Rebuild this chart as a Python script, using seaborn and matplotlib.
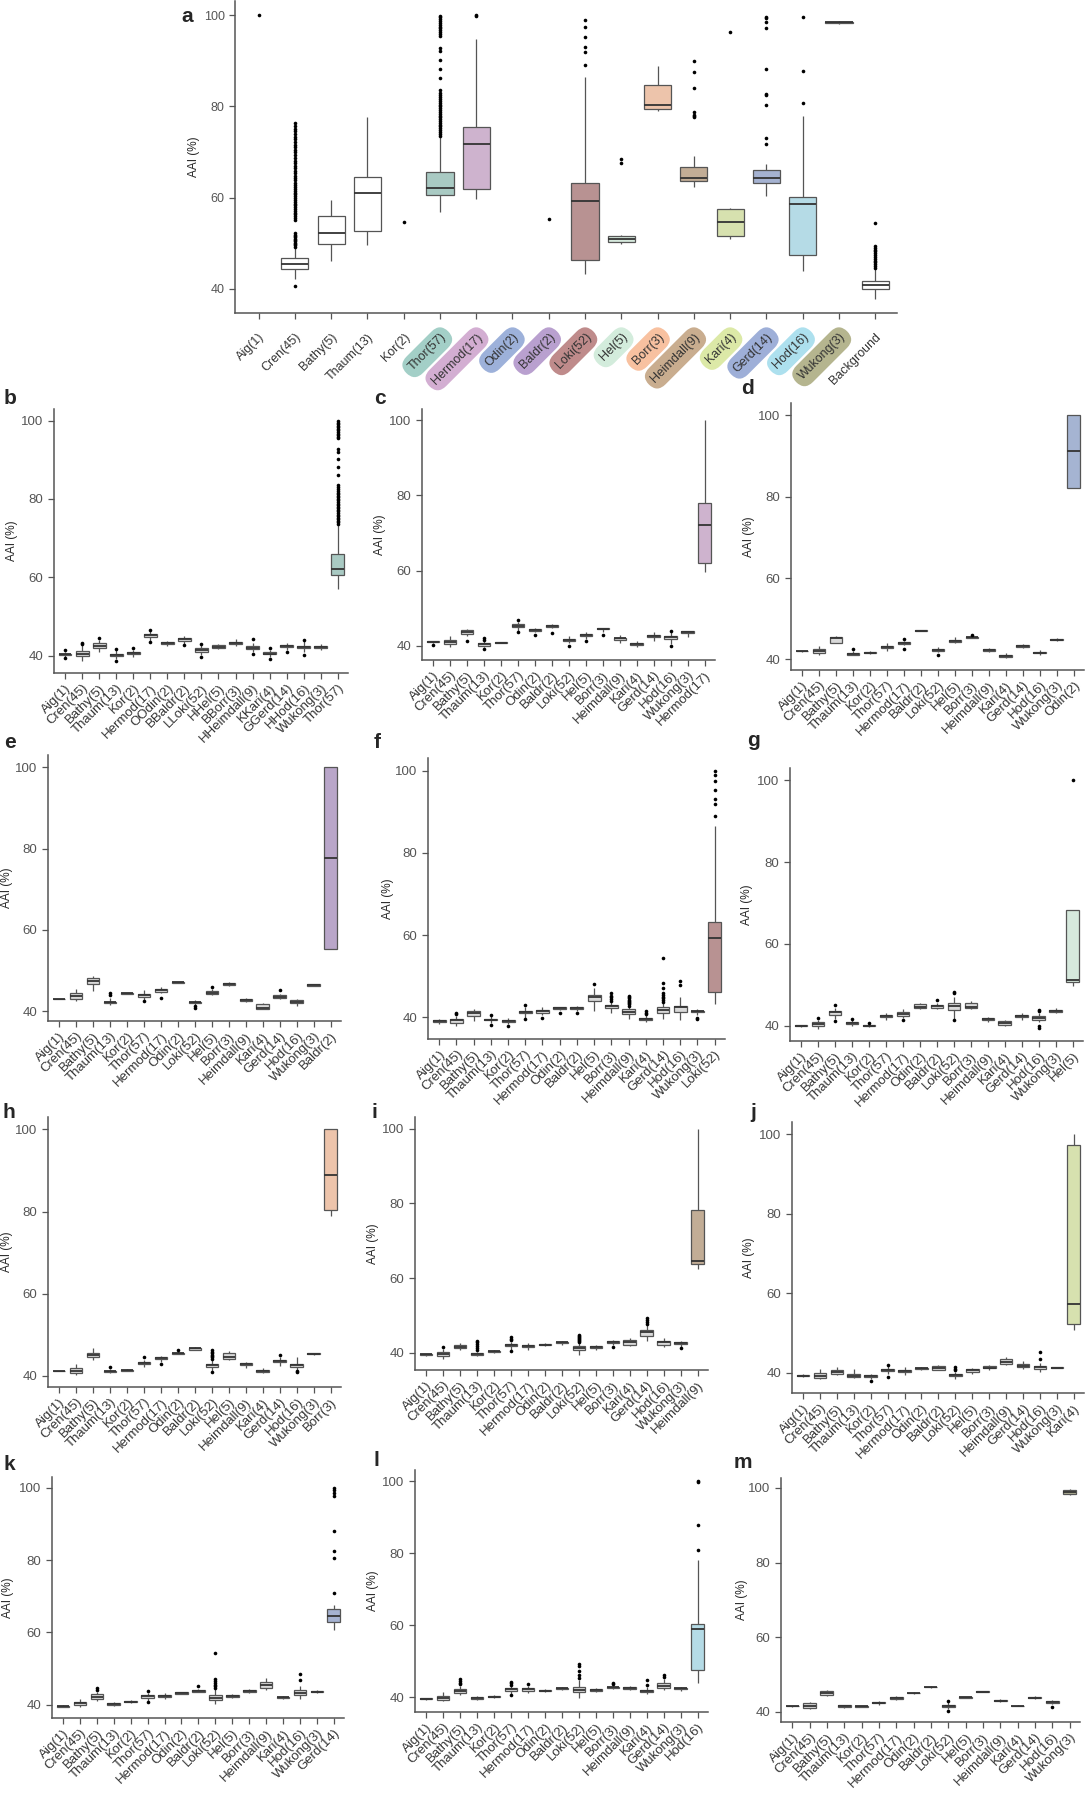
import matplotlib
matplotlib.use("Agg")
import matplotlib.pyplot as plt
import seaborn as sns
import pandas as pd

sns.set_style("ticks")
plt.rcParams["font.family"] = ["Liberation Sans", "DejaVu Sans"]

W, H = 1086, 1800

# ---- lineages ----
LINEAGES = ["Aig(1)", "Cren(45)", "Bathy(5)", "Thaum(13)", "Kor(2)", "Thor(57)",
            "Hermod(17)", "Odin(2)", "Baldr(2)", "Loki(52)", "Hel(5)", "Borr(3)",
            "Heimdall(9)", "Kari(4)", "Gerd(14)", "Hod(16)", "Wukong(3)"]
COLORS = {"Thor(57)": "#a3cfc7", "Hermod(17)": "#d3aed2", "Odin(2)": "#9db1da",
          "Baldr(2)": "#b9a0cf", "Loki(52)": "#bf8b8b", "Hel(5)": "#d3ecdc",
          "Borr(3)": "#f8c1a0", "Heimdall(9)": "#c9ad8f", "Kari(4)": "#dce9a7",
          "Gerd(14)": "#9eafd8", "Hod(16)": "#ade0ee", "Wukong(3)": "#b5b58f"}

# ---- panel a: (whislo, q1, median, q3, whishi) ----
A_ORDER = LINEAGES + ["Background"]
a_stats = {
    "Cren(45)": (42.2, 44.3, 45.4, 46.8, 48.9),
    "Bathy(5)": (46.2, 49.9, 52.2, 55.9, 59.4),
    "Thaum(13)": (49.5, 52.7, 61.1, 64.5, 77.6),
    "Thor(57)": (56.8, 60.6, 62.0, 65.6, 73.3),
    "Hermod(17)": (59.7, 61.8, 71.8, 75.4, 94.8),
    "Loki(52)": (43.2, 46.3, 59.2, 63.1, 86.4),
    "Hel(5)": (49.8, 50.3, 50.9, 51.6, 51.8),
    "Borr(3)": (78.9, 79.5, 80.3, 84.6, 88.8),
    "Heimdall(9)": (62.3, 63.7, 64.4, 66.7, 69.2),
    "Kari(4)": (50.9, 51.5, 54.7, 57.5, 57.8),
    "Gerd(14)": (60.4, 63.2, 64.2, 66.1, 67.3),
    "Hod(16)": (44.0, 47.5, 58.6, 60.2, 77.9),
    "Wukong(3)": (98.1, 98.2, 98.4, 98.6, 98.8),
    "Background": (37.8, 39.9, 40.9, 41.7, 44.3),
}
cren_fliers = [40.6, 49.2, 49.5, 49.8, 50.1, 50.4, 50.7, 51.0, 51.3, 51.6, 51.9, 52.2,
               55.1, 55.5, 55.9, 56.3, 56.7, 57.1, 57.5, 57.9, 58.3, 58.7, 59.1, 59.5,
               59.9, 60.3, 60.7, 61.1, 61.5, 61.9, 62.3, 62.8, 63.3, 63.8, 64.3, 64.8,
               65.3, 65.9, 66.4, 67.0, 67.5, 68.1, 68.7, 69.3, 69.9, 70.5, 71.0, 71.6,
               72.2, 72.8, 73.3, 73.9, 74.5, 75.1, 75.7, 76.4]
thor_fliers = [73.6, 74.0, 74.4, 74.8, 75.2, 75.6, 76.0, 76.4, 76.8, 77.2, 77.6, 78.0,
               78.4, 78.8, 79.2, 79.6, 80.0, 80.4, 80.8, 81.2, 81.6, 82.0, 82.5, 83.0,
               83.5, 86.2, 88.2, 90.1, 92.1, 92.8, 95.5, 95.9, 96.3, 96.7, 97.1, 97.5,
               97.9, 98.3, 98.7, 99.1, 99.5, 99.9]
bg_fliers = [44.6, 45.0, 45.4, 45.8, 46.2, 46.6, 47.0, 47.4, 47.8, 48.2, 48.6, 49.0,
             49.3, 54.5]
a_fliers = {
    "Aig(1)": [100.0], "Kor(2)": [54.7], "Baldr(2)": [55.3],
    "Cren(45)": cren_fliers, "Thor(57)": thor_fliers,
    "Hermod(17)": [99.8, 100.0],
    "Loki(52)": [89.1, 92.0, 93.1, 95.3, 97.4, 98.9],
    "Hel(5)": [67.5, 68.5],
    "Heimdall(9)": [77.6, 77.9, 78.2, 78.7, 84.1, 87.5, 90.0],
    "Kari(4)": [96.4],
    "Gerd(14)": [71.8, 73.0, 80.4, 82.4, 82.8, 88.1, 97.2, 98.6, 99.3, 99.6],
    "Hod(16)": [80.7, 87.8, 99.7],
    "Background": bg_fliers,
}

# ---- panels b-m: one lineage against all others ----
B_LABELS = ["Aig(1)", "Cren(45)", "Bathy(5)", "Thaum(13)", "Kor(2)", "Hermod(17)",
            "OOdin(2)", "BBaldr(2)", "LLoki(52)", "HHel(5)", "BBorr(3)", "HHeimdall(9)",
            "KKari(4)", "GGerd(14)", "HHod(16)", "Wukong(3)", "Thor(57)"]
b_stats = [(39.6, 40.1, 40.3, 40.5, 41.0), (38.6, 40.0, 40.5, 41.1, 42.6),
           (40.9, 42.0, 42.5, 43.1, 43.9), (39.0, 39.9, 40.2, 40.5, 41.3),
           (39.7, 40.5, 40.7, 40.9, 41.5), (43.8, 44.7, 45.2, 45.6, 46.2),
           (42.4, 42.9, 43.1, 43.4, 43.8), (42.9, 43.7, 44.1, 44.5, 45.1),
           (40.2, 41.0, 41.4, 41.9, 42.6), (41.6, 42.0, 42.3, 42.6, 43.0),
           (42.4, 43.0, 43.2, 43.5, 44.2), (40.9, 41.7, 42.0, 42.4, 43.3),
           (39.5, 40.3, 40.5, 40.8, 41.4), (41.5, 42.2, 42.4, 42.6, 43.3),
           (40.8, 41.9, 42.2, 42.5, 43.6), (41.5, 42.0, 42.2, 42.4, 42.9),
           (56.9, 60.5, 62.0, 65.9, 73.6)]
b_fliers = {"Aig(1)": [41.3, 39.4], "Cren(45)": [43.0, 43.3], "Bathy(5)": [44.5],
            "Thaum(13)": [38.6, 41.7], "Kor(2)": [41.8], "Hermod(17)": [46.5, 43.5],
            "BBaldr(2)": [42.6], "LLoki(52)": [42.9, 39.6], "HHeimdall(9)": [44.2, 40.5],
            "KKari(4)": [41.8, 39.0], "GGerd(14)": [41.0], "HHod(16)": [40.2, 43.9],
            "Thor(57)": thor_fliers}

c_stats = [(40.8, 40.9, 41.0, 41.1, 41.1), (39.6, 40.4, 40.9, 41.6, 42.5),
           (42.5, 43.0, 43.6, 44.2, 44.4), (39.5, 40.0, 40.3, 40.6, 41.3),
           (40.7, 40.75, 40.8, 40.9, 40.9), (44.0, 44.9, 45.3, 45.7, 46.3),
           (43.5, 44.0, 44.2, 44.4, 44.8), (44.6, 45.0, 45.3, 45.6, 45.8),
           (40.7, 41.2, 41.5, 41.8, 42.5), (41.8, 42.5, 42.9, 43.2, 43.7),
           (43.6, 44.3, 44.5, 44.6, 44.8), (40.8, 41.6, 41.9, 42.1, 42.8),
           (39.6, 40.1, 40.4, 40.7, 41.3), (41.3, 42.2, 42.5, 42.7, 43.5),
           (40.4, 41.8, 42.2, 42.5, 43.5), (42.4, 43.3, 43.5, 43.8, 44.0),
           (59.7, 61.9, 72.0, 77.9, 100.0)]
c_fliers = {"Aig(1)": [40.1], "Bathy(5)": [41.3], "Thaum(13)": [39.2, 41.6, 41.9],
            "Thor(57)": [46.7, 43.6], "Odin(2)": [42.7], "Baldr(2)": [43.3],
            "Loki(52)": [39.9], "Hel(5)": [41.3], "Borr(3)": [42.9],
            "Hod(16)": [40.0, 43.8]}

d_stats = [(41.95, 42.0, 42.0, 42.0, 42.05), (41.2, 41.6, 42.0, 42.6, 43.2),
           (44.0, 44.1, 45.3, 45.5, 45.8), (41.0, 41.2, 41.4, 41.6, 42.0),
           (41.4, 41.6, 41.7, 41.8, 42.0), (42.2, 42.8, 43.1, 43.4, 44.0),
           (43.5, 43.9, 44.1, 44.3, 44.6), (46.9, 47.0, 47.1, 47.2, 47.3),
           (41.8, 42.1, 42.3, 42.5, 43.0), (44.0, 44.2, 44.5, 44.9, 45.6),
           (45.3, 45.4, 45.5, 45.6, 45.8), (41.9, 42.1, 42.3, 42.5, 42.9),
           (40.4, 40.6, 40.9, 41.1, 41.5), (42.8, 43.0, 43.3, 43.6, 43.8),
           (41.1, 41.5, 41.7, 41.9, 42.3), (44.6, 44.8, 44.9, 45.0, 45.2),
           (82.2, 82.2, 91.1, 100.0, 100.0)]
d_fliers = {"Thaum(13)": [42.6], "Hermod(17)": [45.0, 42.5], "Loki(52)": [41.1],
            "Borr(3)": [46.1]}

e_stats = [(42.95, 43.0, 43.0, 43.0, 43.05), (42.6, 43.1, 43.8, 44.6, 45.6),
           (45.0, 46.7, 47.4, 48.1, 48.8), (41.6, 42.0, 42.2, 42.4, 43.3),
           (44.3, 44.35, 44.4, 44.5, 44.6), (42.9, 43.6, 44.0, 44.3, 45.3),
           (44.4, 44.8, 45.2, 45.5, 46.0), (46.9, 47.0, 47.1, 47.2, 47.3),
           (41.5, 42.0, 42.2, 42.4, 42.9), (44.1, 44.3, 44.4, 45.1, 45.6),
           (46.3, 46.4, 46.7, 47.0, 47.1), (42.2, 42.6, 42.8, 43.0, 43.2),
           (40.6, 40.7, 40.9, 41.7, 42.1), (43.0, 43.4, 43.6, 43.9, 44.3),
           (41.4, 42.1, 42.4, 42.7, 43.1), (46.2, 46.3, 46.4, 46.6, 46.7),
           (55.3, 55.3, 77.7, 100.0, 100.0)]
e_fliers = {"Thaum(13)": [43.9, 44.4], "Thor(57)": [42.6], "Hermod(17)": [43.4],
            "Loki(52)": [40.9, 41.2], "Hel(5)": [46.0], "Gerd(14)": [45.3]}

f_stats = [(38.3, 38.8, 39.0, 39.2, 39.6), (37.8, 38.6, 39.2, 39.6, 40.4),
           (39.0, 40.2, 41.1, 41.5, 42.0), (38.5, 39.2, 39.4, 39.6, 40.2),
           (38.3, 38.9, 39.1, 39.3, 39.8), (39.8, 40.9, 41.3, 41.6, 42.6),
           (40.5, 41.0, 41.4, 41.7, 42.4), (41.8, 42.1, 42.3, 42.4, 42.5),
           (41.4, 42.0, 42.3, 42.5, 42.7), (41.6, 43.9, 44.9, 45.5, 47.0),
           (41.0, 42.3, 42.7, 43.0, 43.7), (39.6, 40.8, 41.3, 41.9, 42.6),
           (38.9, 39.4, 39.6, 39.9, 40.5), (39.6, 41.1, 41.8, 42.4, 43.5),
           (39.2, 41.2, 42.5, 42.8, 45.0), (40.6, 41.2, 41.4, 41.6, 42.0),
           (43.2, 46.2, 59.3, 63.2, 86.5)]
f_fliers = {"Cren(45)": [40.7, 41.0], "Thaum(13)": [40.5, 38.2], "Kor(2)": [37.8],
            "Thor(57)": [43.0, 39.5], "Hermod(17)": [39.9], "Odin(2)": [41.1],
            "Baldr(2)": [40.9], "Hel(5)": [48.0],
            "Borr(3)": [44.0, 44.4, 44.8, 45.2, 45.8],
            "Heimdall(9)": [42.8, 43.1, 43.4, 43.7, 44.0, 44.3, 44.6, 44.9, 45.1],
            "Kari(4)": [40.8, 41.1, 41.4],
            "Gerd(14)": [43.8, 44.2, 44.6, 45.0, 45.4, 45.8, 47.0, 48.3, 54.4],
            "Hod(16)": [47.9, 48.8], "Wukong(3)": [39.6, 39.8],
            "Loki(52)": [89.1, 92.0, 93.1, 95.4, 97.4, 99.0, 100.0]}

g_stats = [(39.8, 39.9, 40.0, 40.1, 40.2), (39.3, 40.0, 40.5, 40.9, 41.5),
           (41.7, 42.7, 43.3, 43.7, 44.3), (40.0, 40.5, 40.7, 40.9, 41.3),
           (39.7, 39.9, 40.0, 40.1, 40.3), (41.3, 42.1, 42.4, 42.6, 43.2),
           (41.8, 42.5, 42.9, 43.3, 44.1), (44.2, 44.3, 44.6, 45.2, 45.6),
           (44.0, 44.4, 44.8, 45.1, 45.6), (41.7, 43.9, 44.8, 45.5, 47.1),
           (44.1, 44.3, 44.6, 45.6, 46.0), (41.0, 41.4, 41.7, 41.9, 42.2),
           (39.9, 40.3, 40.6, 41.1, 41.3), (41.5, 42.1, 42.4, 42.7, 43.2),
           (40.8, 41.5, 42.0, 42.4, 43.2), (43.0, 43.4, 43.7, 43.9, 44.3),
           (49.7, 50.8, 51.2, 68.4, 68.4)]
g_fliers = {"Cren(45)": [42.0], "Bathy(5)": [41.2, 45.0], "Thaum(13)": [41.6],
            "Kor(2)": [40.6], "Hermod(17)": [41.3], "Baldr(2)": [46.2],
            "Loki(52)": [48.0, 48.2, 41.5], "Hod(16)": [40.0, 39.5, 43.6, 43.9],
            "Hel(5)": [100.0]}

h_stats = [(41.15, 41.2, 41.2, 41.2, 41.25), (40.3, 40.6, 41.2, 41.9, 43.0),
           (43.8, 44.5, 45.2, 45.7, 46.7), (40.6, 40.9, 41.1, 41.3, 41.8),
           (41.1, 41.3, 41.4, 41.5, 41.6), (42.1, 42.9, 43.2, 43.5, 44.0),
           (43.5, 44.2, 44.4, 44.6, 44.9), (45.3, 45.4, 45.5, 45.7, 46.0),
           (46.3, 46.4, 46.7, 46.9, 47.0), (41.0, 42.2, 42.6, 43.0, 43.8),
           (44.0, 44.2, 44.5, 45.7, 46.0), (41.9, 42.6, 42.8, 43.1, 43.4),
           (40.7, 40.9, 41.1, 41.5, 42.0), (42.5, 43.4, 43.7, 44.0, 44.6),
           (41.0, 42.2, 42.7, 43.0, 44.5), (45.2, 45.3, 45.4, 45.5, 45.6),
           (78.9, 80.3, 88.9, 100.0, 100.0)]
h_fliers = {"Thaum(13)": [42.3], "Thor(57)": [44.5], "Hermod(17)": [42.9],
            "Odin(2)": [46.3],
            "Loki(52)": [44.2, 44.5, 44.8, 45.1, 45.5, 45.8, 46.2, 40.9],
            "Gerd(14)": [45.0], "Hod(16)": [40.9, 41.2]}

i_stats = [(39.1, 39.4, 39.6, 39.7, 39.8), (38.5, 39.2, 39.7, 40.3, 41.0),
           (40.7, 41.2, 41.6, 42.0, 42.6), (39.2, 39.5, 39.7, 39.9, 40.3),
           (40.0, 40.2, 40.4, 40.6, 40.8), (40.9, 41.8, 42.1, 42.4, 43.0),
           (40.7, 41.5, 41.8, 42.0, 42.7), (41.8, 42.0, 42.2, 42.4, 42.7),
           (42.2, 42.6, 42.8, 43.0, 43.1), (39.5, 40.7, 41.3, 41.8, 42.6),
           (40.9, 41.3, 41.6, 41.8, 42.1), (42.2, 42.7, 42.9, 43.1, 43.4),
           (41.9, 42.1, 42.9, 43.4, 43.9), (43.3, 44.6, 45.5, 46.0, 47.4),
           (41.5, 42.2, 42.8, 43.2, 43.9), (41.7, 42.5, 42.7, 42.9, 43.3),
           (62.4, 63.7, 64.6, 78.3, 100.0)]
i_fliers = {"Cren(45)": [41.7], "Thaum(13)": [40.8, 41.3, 41.8, 42.3, 42.8, 43.2],
            "Thor(57)": [43.4, 43.8, 44.2, 40.5],
            "Loki(52)": [42.8, 43.1, 43.4, 43.7, 44.0, 44.3, 44.6, 44.9],
            "Borr(3)": [41.6], "Gerd(14)": [47.8, 48.3, 48.8, 49.3],
            "Wukong(3)": [41.4]}

j_stats = [(39.0, 39.2, 39.3, 39.5, 39.7), (38.3, 38.7, 39.3, 39.9, 40.9),
           (39.4, 39.7, 40.3, 40.8, 41.5), (38.6, 38.9, 39.2, 39.7, 41.0),
           (38.5, 38.9, 39.2, 39.4, 39.8), (39.6, 40.4, 40.7, 40.9, 41.7),
           (39.5, 40.1, 40.4, 40.8, 41.5), (40.6, 40.9, 41.1, 41.3, 41.5),
           (40.6, 40.8, 41.1, 41.8, 42.0), (38.5, 39.1, 39.4, 39.7, 40.3),
           (39.7, 40.2, 40.8, 40.9, 41.3), (40.7, 41.1, 41.3, 41.6, 42.0),
           (41.9, 42.1, 42.8, 43.4, 43.9), (41.0, 41.4, 41.8, 42.3, 42.9),
           (40.2, 41.0, 41.4, 41.8, 42.5), (41.1, 41.2, 41.3, 41.4, 41.5),
           (50.8, 52.3, 57.2, 97.4, 100.0)]
j_fliers = {"Kor(2)": [38.0], "Thor(57)": [42.0, 39.0], "Loki(52)": [40.6, 41.0, 41.4],
            "Hod(16)": [43.5, 45.3]}

k_stats = [(39.3, 39.4, 39.6, 39.7, 39.9), (39.4, 39.9, 40.3, 40.8, 41.6),
           (41.0, 41.6, 42.2, 42.8, 43.6), (39.6, 39.9, 40.1, 40.3, 40.8),
           (40.3, 40.6, 40.8, 40.9, 41.2), (41.0, 41.9, 42.3, 42.6, 43.3),
           (41.5, 42.0, 42.3, 42.6, 43.1), (42.8, 43.0, 43.2, 43.4, 43.6),
           (43.4, 43.6, 43.8, 44.0, 44.3), (40.2, 41.2, 41.8, 42.5, 44.3),
           (41.8, 42.1, 42.3, 42.5, 42.8), (43.3, 43.5, 43.8, 44.0, 44.3),
           (43.9, 44.6, 45.4, 46.3, 47.3), (41.6, 41.8, 42.0, 42.2, 42.4),
           (41.5, 42.5, 43.3, 43.9, 45.2), (43.2, 43.4, 43.6, 43.8, 44.0),
           (60.6, 63.0, 64.4, 66.5, 67.6)]
k_fliers = {"Bathy(5)": [44.1, 44.6], "Thor(57)": [43.8, 40.6], "Baldr(2)": [45.2],
            "Loki(52)": [44.7, 45.1, 45.5, 46.0, 46.6, 47.2, 54.3],
            "Hod(16)": [46.9, 48.5],
            "Gerd(14)": [71.0, 80.5, 82.6, 88.0, 97.7, 98.6, 99.5, 100.0]}

l_stats = [(39.3, 39.4, 39.5, 39.6, 39.7), (38.9, 39.3, 39.8, 40.4, 41.3),
           (40.6, 41.2, 41.6, 42.2, 43.0), (39.2, 39.5, 39.7, 39.9, 40.3),
           (39.8, 40.0, 40.1, 40.3, 40.5), (40.9, 41.7, 42.1, 42.5, 43.0),
           (41.2, 41.8, 42.1, 42.4, 43.0), (41.5, 41.7, 41.8, 42.0, 42.2),
           (42.0, 42.2, 42.4, 42.6, 42.8), (39.8, 41.3, 42.0, 42.8, 44.6),
           (41.4, 41.7, 41.9, 42.1, 42.4), (42.3, 42.5, 42.7, 42.9, 43.1),
           (42.0, 42.3, 42.6, 42.9, 43.2), (40.8, 41.3, 41.6, 42.0, 42.7),
           (42.0, 42.6, 43.2, 43.9, 44.9), (41.8, 42.1, 42.4, 42.6, 42.9),
           (44.0, 47.6, 58.8, 60.4, 78.0)]
l_fliers = {"Bathy(5)": [43.5, 44.0, 44.5, 45.0], "Thor(57)": [43.4, 43.8, 44.2, 40.5],
            "Hermod(17)": [43.5], "Loki(52)": [45.3, 46.0, 47.2, 48.6, 49.2],
            "Borr(3)": [43.5, 44.0], "Kari(4)": [43.3, 44.6], "Gerd(14)": [45.7, 46.2],
            "Hod(16)": [80.7, 87.8, 99.7, 100.0]}

m_stats = [(41.35, 41.4, 41.4, 41.4, 41.45), (40.8, 41.1, 41.6, 42.2, 42.7),
           (44.2, 44.6, 45.1, 45.5, 45.9), (41.1, 41.3, 41.5, 41.7, 41.9),
           (41.2, 41.3, 41.4, 41.5, 41.6), (41.9, 42.2, 42.4, 42.6, 42.9),
           (43.1, 43.4, 43.6, 43.8, 44.1), (44.8, 44.9, 45.0, 45.1, 45.2),
           (46.4, 46.5, 46.6, 46.7, 46.8), (40.7, 41.2, 41.5, 41.9, 42.5),
           (43.6, 43.7, 43.8, 43.9, 44.0), (45.2, 45.3, 45.4, 45.5, 45.6),
           (42.6, 42.8, 42.9, 43.1, 43.3), (41.5, 41.55, 41.6, 41.65, 41.7),
           (43.4, 43.6, 43.7, 43.9, 44.1), (42.1, 42.4, 42.6, 42.8, 43.2),
           (98.0, 98.3, 99.0, 99.5, 99.7)]
m_fliers = {"Loki(52)": [40.2, 42.9], "Hod(16)": [41.3]}


def order_for(target):
    return [x for x in LINEAGES if x != target] + [target]


# letter, target, axes rect (left, top, right, bottom px), letter pos,
# ylabel right edge x (px)
PANELS = [
    ("b", "Thor(57)", (54, 409, 348, 673), (10, 398), 18, b_stats, b_fliers),
    ("c", "Hermod(17)", (422, 409, 715, 660), (380, 398), 386, c_stats, c_fliers),
    ("d", "Odin(2)", (791, 403, 1084, 670), (748, 389), 755, d_stats, d_fliers),
    ("e", "Baldr(2)", (48, 755, 341, 1021), (10, 743), 13, e_stats, e_fliers),
    ("f", "Loki(52)", (428, 758, 725, 1039), (377, 743), 394, f_stats, f_fliers),
    ("g", "Hel(5)", (790, 768, 1083, 1041), (753, 741), 753, g_stats, g_fliers),
    ("h", "Borr(3)", (48, 1117, 341, 1387), (9, 1112), 13, h_stats, h_fliers),
    ("i", "Heimdall(9)", (415, 1117, 708, 1370), (374, 1112), 379, i_stats, i_fliers),
    ("j", "Kari(4)", (792, 1122, 1084, 1393), (753, 1112), 755, j_stats, j_fliers),
    ("k", "Gerd(14)", (52, 1477, 344, 1718), (9, 1465), 14, k_stats, k_fliers),
    ("l", "Hod(16)", (415, 1470, 708, 1712), (376, 1460), 379, l_stats, l_fliers),
    ("m", "Wukong(3)", (781, 1478, 1080, 1722), (743, 1462), 748, m_stats, m_fliers),
]


def make_axes(fig, rect):
    l, t, r, b = rect
    return fig.add_axes([l / W, 1 - b / H, (r - l) / W, (b - t) / H])


def long_frame(stats_by_label):
    rows = [(lab, v) for lab, vals in stats_by_label.items() for v in vals]
    return pd.DataFrame(rows, columns=["lineage", "aai"])


def draw_panel(ax, order, stats_by_label, fliers_by_label, palette, rect, ylab_x,
               big=False):
    box_df = long_frame(stats_by_label)
    fl_df = long_frame(fliers_by_label)
    pal = {lab: palette[lab] for lab in stats_by_label}
    sns.boxplot(data=box_df, x="lineage", y="aai", hue="lineage", palette=pal,
                order=order, whis=(0, 100), width=0.75, showcaps=False,
                fliersize=0, linewidth=0.9, linecolor="#555555",
                medianprops=dict(color="#333333", linewidth=1.3),
                legend=False, ax=ax)
    sns.stripplot(data=fl_df, x="lineage", y="aai", order=order, jitter=False,
                  color="black", size=2.6, linewidth=0, ax=ax)
    n = len(order)
    ax.set_xlim(-0.65, n - 0.4)
    ax.set_yticks([40, 60, 80, 100])
    ax.set_xlabel("")
    ax.set_ylabel("AAI (%)", fontsize=8.5)
    l, t, r, b = rect
    ax.yaxis.set_label_coords((ylab_x - l) / (r - l), 0.5)
    sns.despine(ax=ax)
    for s in ["left", "bottom"]:
        ax.spines[s].set_color("#555555")
        ax.spines[s].set_linewidth(1.1)
    ax.tick_params(axis="both", colors="#555555", length=4, width=0.9)
    ax.tick_params(axis="y", labelsize=9 if big else 9.5, labelcolor="#555555")
    ax.tick_params(axis="x", labelsize=9 if big else 9.5, labelcolor="#333333",
                   pad=9 if big else 2.5)
    ax.set_xticks(range(n))
    ax.set_xticklabels(order, rotation=45, ha="right", va="top",
                       rotation_mode="anchor")


fig = plt.figure(figsize=(W / 100, H / 100), dpi=100)

# ---- panel a ----
A_RECT = (235, 1, 897, 313)
ax = make_axes(fig, A_RECT)
a_pal = {lab: COLORS.get(lab, "white") for lab in A_ORDER}
draw_panel(ax, A_ORDER, a_stats, a_fliers, a_pal, A_RECT, 200, big=True)
for lbl in ax.get_xticklabels():
    c = COLORS.get(lbl.get_text())
    if c:
        lbl.set_bbox(dict(boxstyle="round,pad=0.45,rounding_size=0.95",
                          fc=c, ec="none"))
fig.text(187 / W, 1 - 16 / H, "a", fontsize=15, fontweight="bold",
         ha="center", va="center")

# ---- panels b-m ----
for letter, target, rect, lpos, ylab_x, stats, fliers in PANELS:
    order = B_LABELS if letter == "b" else order_for(target)
    stats_by_label = dict(zip(order, stats))
    pal = {lab: "#d9d9d9" for lab in order}
    pal[order[-1]] = COLORS[target]
    ax = make_axes(fig, rect)
    draw_panel(ax, order, stats_by_label, fliers, pal, rect, ylab_x)
    fig.text(lpos[0] / W, 1 - lpos[1] / H, letter, fontsize=15, fontweight="bold",
             ha="center", va="center")

fig.savefig("out.png", dpi=100)
